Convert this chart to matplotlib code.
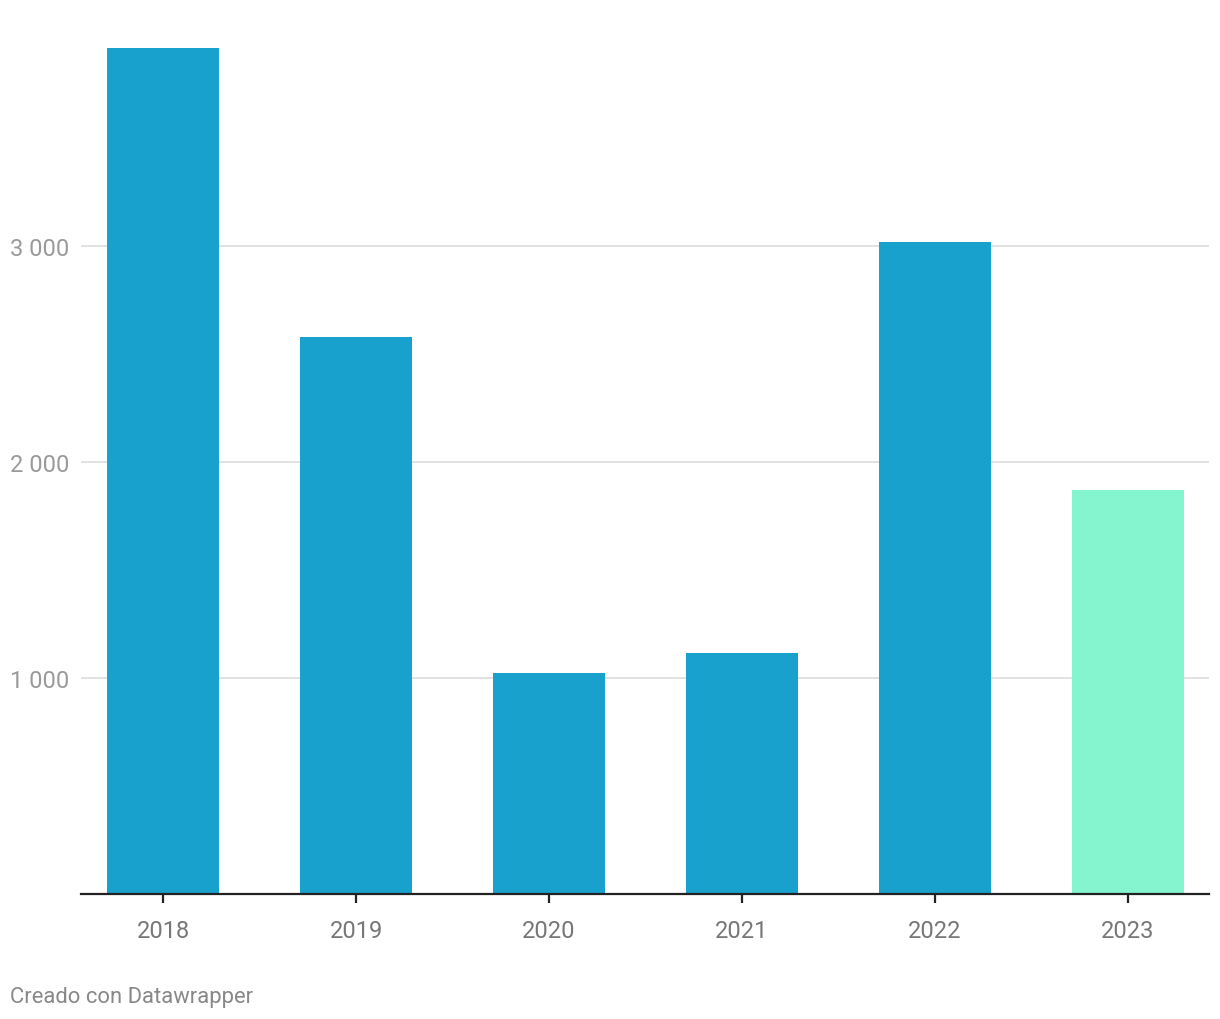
import matplotlib.pyplot as plt

# datos
years = ['2018', '2019', '2020', '2021', '2022', '2023']
values = [3917, 2579, 1023, 1116, 3019, 1870]
colors = ['#18a1cd'] * 5 + ['#84f5ce']
yticks = [1000, 2000, 3000]
ylabels = ['1 000', '2 000', '3 000']

plt.rcParams['font.family'] = ['Roboto', 'DejaVu Sans']

fig = plt.figure(figsize=(12.2, 10.2), dpi=100)
ax = fig.add_axes([81 / 1220, 125 / 1020, 1128 / 1220, 864 / 1020])

x = list(range(len(years)))
ax.bar(x, values, width=0.58, color=colors, zorder=2)

ax.set_xlim(-0.425, 5.42)
ax.set_ylim(0, 4000)

ax.set_yticks(yticks)
ax.set_yticklabels(ylabels, ha='left')
ax.tick_params(axis='y', length=0, pad=51, labelsize=17, labelcolor='#9a9a9a')
ax.yaxis.grid(True, color='#e1e1e1', linewidth=1.4, zorder=0)

ax.set_xticks(x)
ax.set_xticklabels(years)
ax.tick_params(axis='x', length=6.5, width=1.6, color='#222222', pad=11.5,
               labelsize=17, labelcolor='#777777')

for s in ['top', 'right', 'left']:
    ax.spines[s].set_visible(False)
ax.spines['bottom'].set_color('#222222')
ax.spines['bottom'].set_linewidth(1.6)
ax.spines['bottom'].set_zorder(3)

fig.text(10 / 1220, 1 - 998 / 1020, 'Creado con Datawrapper', ha='left', va='center',
         fontsize=15.8, color='#888888')

fig.savefig('out.png', dpi=100)
